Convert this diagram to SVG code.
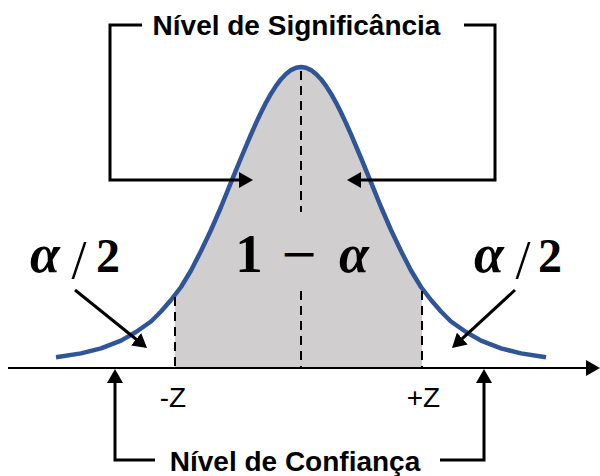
<svg xmlns="http://www.w3.org/2000/svg" width="600" height="476" viewBox="0 0 600 476">
<style>
.ln{fill:none;stroke:#000;stroke-width:3;stroke-linejoin:miter}
.dash{fill:none;stroke:#000;stroke-width:2;stroke-dasharray:9 6}
.lbl{font-family:"Liberation Sans",Arial,sans-serif;font-weight:bold;font-size:28px;fill:#000}
.z{font-family:"Liberation Sans",Arial,sans-serif;font-size:28px;fill:#000}
.m{font-family:"Liberation Serif","DejaVu Serif",serif;font-weight:bold;fill:#000}
.a{font-style:italic;font-size:54px}
.s{font-size:54px;font-weight:normal}
.d{font-size:48px}
</style>
<defs>
<marker id="ah" markerUnits="userSpaceOnUse" markerWidth="14" markerHeight="16" viewBox="0 0 14 16" refX="6" refY="8" orient="auto">
<path d="M0,0 L14,8 L0,16 z" fill="#000"/>
</marker>
</defs>
<g id="shade">
<polygon fill="#D0CECE" points="175,368 175,294.8 181,287 191,270.5 201,251 211,230 221,207 231,182.3 241,158 251,134.4 256,123.1 261,112.5 266,102.6 271,93.7 276,85.9 281,79.2 286,74 291,70.1 296,67.8 301,67 306,67.8 311,70.1 316,74 321,79.2 326,85.9 331,93.7 336,102.6 341,112.5 346,123.1 351,134.4 361,158 371,182.3 381,207 391,230 401,251 411,270.5 421,287 422,288.3 422,368"/>
</g>
<g id="curve">
<polyline fill="none" stroke="#2F5597" stroke-width="4.5" stroke-linejoin="round" stroke-linecap="butt" points="56,357.2 81,353.4 101,348.4 121,340.6 136,332 151,321.5 161,311.5 171,300 181,287 191,270.5 201,251 211,230 221,207 231,182.3 241,158 251,134.4 256,123.1 261,112.5 266,102.6 271,93.7 276,85.9 281,79.2 286,74 291,70.1 296,67.8 301,67 306,67.8 311,70.1 316,74 321,79.2 326,85.9 331,93.7 336,102.6 341,112.5 346,123.1 351,134.4 361,158 371,182.3 381,207 391,230 401,251 411,270.5 421,287 431,300 441,311.5 451,321.5 466,332 481,340.6 501,348.4 521,353.4 546,357.2"/>
</g>
<g id="connectors">
<line class="dash" x1="175" y1="297" x2="175" y2="367"/>
<line class="dash" x1="422" y1="291" x2="422" y2="367"/>
<line class="dash" x1="301" y1="71" x2="301" y2="212"/>
<line class="dash" x1="301" y1="291" x2="301" y2="367"/>
<line x1="8" y1="368" x2="592" y2="368" stroke="#000" stroke-width="2" marker-end="url(#ah)"/>
<path class="ln" d="M142,25 L110,25 L110,180 L245,180" marker-end="url(#ah)"/>
<path class="ln" d="M464,25 L495,25 L495,180 L355,180" marker-end="url(#ah)"/>
<path class="ln" d="M155,460 L115,460 L115,377" marker-end="url(#ah)"/>
<path class="ln" d="M440,460 L484,460 L484,377" marker-end="url(#ah)"/>
<line class="ln" x1="75" y1="290" x2="140.8" y2="343" marker-end="url(#ah)"/>
<line class="ln" x1="515" y1="290" x2="457.9" y2="342.6" marker-end="url(#ah)"/>
</g>
<g id="title-top">
<text class="lbl" x="296.5" y="35" text-anchor="middle">Nível de Significância</text>
</g>
<g id="title-bottom">
<text class="lbl" x="295" y="471" text-anchor="middle">Nível de Confiança</text>
</g>
<g id="z-labels">
<text class="z" x="173" y="407" text-anchor="middle">-Z</text>
<text class="z" x="423.5" y="407" text-anchor="middle">+Z</text>
</g>
<g id="alpha-left">
<text class="m" y="272" text-anchor="middle"><tspan class="a" x="45">α</tspan><tspan class="s" x="79" y="278">/</tspan><tspan class="d" x="108" y="272">2</tspan></text>
</g>
<g id="alpha-right">
<text class="m" y="272" text-anchor="middle"><tspan class="a" x="489">α</tspan><tspan class="s" x="523" y="278">/</tspan><tspan class="d" x="550" y="272">2</tspan></text>
</g>
<g id="center-label">
<text class="m" y="272" text-anchor="middle"><tspan x="249" font-size="55">1</tspan><tspan x="299" font-family="'DejaVu Serif',serif" font-weight="normal" font-size="46" y="269">−</tspan><tspan x="354" y="272" font-style="italic" font-size="54">α</tspan></text>
</g>
</svg>
